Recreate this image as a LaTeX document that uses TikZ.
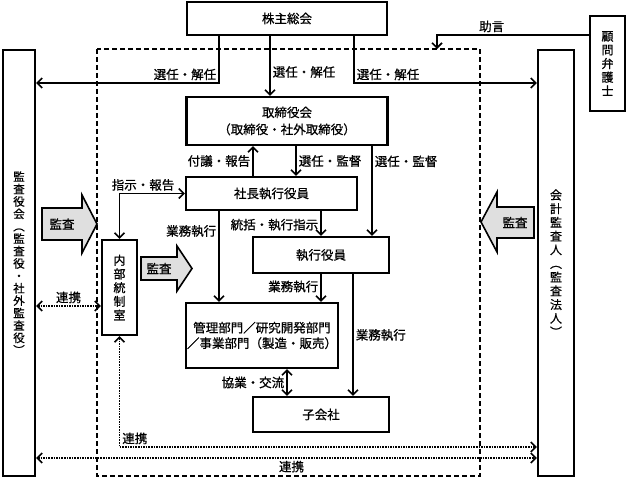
\documentclass[tikz,border=0pt]{standalone}
\usepackage{fontspec}
\setmainfont{Noto Sans CJK JP}[FakeBold=0.8]
\usetikzlibrary{arrows.meta,positioning}
\tikzset{
	box/.style={draw,line width=2.2pt,align=center,inner sep=0pt},
	arr/.style={line width=1.6pt,->},
	link/.style={line width=1.6pt,densely dotted,<->},
	lbl/.style={inner sep=2pt},
	audit/.style={draw,line width=1.6pt,fill=gray!25}
}

\begin{document}
\begin{tikzpicture}[x=1pt,y=-1pt,>={Straight Barb[length=5pt,width=10pt]},
	every node/.style={font=\fontsize{12.5}{14}\selectfont}]
	\useasboundingbox (0,0) rectangle (626,478);
	
	% dashed frame
	\draw[line width=1.3pt,dash pattern=on 5pt off 3pt] (97,49) rectangle (480,476);
	\coordinate (ftop) at (437,49);
	
	% boxes
	\node[box,minimum width=200pt,minimum height=33pt] (agm) at (287,18.5) {株主総会};
	\node[box,minimum width=201pt,minimum height=48pt,font=\fontsize{12.5}{17}\selectfont] (board) at (287,121) {取締役会\\（取締役・社外取締役）};
	\node[box,minimum width=171pt,minimum height=33pt] (ceo) at (271.5,193.5) {社長執行役員};
	\node[box,minimum width=136pt,minimum height=36pt] (exec) at (321,255) {執行役員};
	\node[box,minimum width=152pt,minimum height=65pt,font=\fontsize{12.5}{15.5}\selectfont] (dept) at (262,335.5) {管理部門／研究開発部門\\／事業部門（製造・販売）};
	\node[box,minimum width=136pt,minimum height=35pt] (sub) at (321,414.5) {子会社};
	\node[box,minimum width=35pt,minimum height=95pt,font=\fontsize{12}{13.7}\selectfont] (naibu) at (119.5,287.5) {内\\部\\統\\制\\室};
	\node[box,minimum width=32pt,minimum height=426pt,font=\fontsize{11.5}{12.4}\selectfont] (kansa) at (19,263) {監\\査\\役\\会\\︵\\監\\査\\役\\・\\社\\外\\監\\査\\役\\︶};
	\node[box,minimum width=36pt,minimum height=426pt,font=\fontsize{12}{13.7}\selectfont] (kaikei) at (556,263) {会\\計\\監\\査\\人\\︵\\監\\査\\法\\人\\︶};
	\node[box,minimum width=35pt,minimum height=95pt,font=\fontsize{12}{13.7}\selectfont] (komon) at (607.5,63.5) {顧\\問\\弁\\護\\士};
	
	% audit arrows
	\draw[audit] (42,208) -- (82,208) -- (82,195) -- (97,224) -- (82,253) -- (82,240) -- (42,240) -- cycle;
	\node (audit1) at (62,224) {監査};
	\draw[audit] (141,257) -- (177,257) -- (177,246) -- (192,268.5) -- (177,291) -- (177,280) -- (141,280) -- cycle;
	\node (audit2) at (159,268.5) {監査};
	\draw[audit] (534,207) -- (497,207) -- (497,192) -- (481,222) -- (497,252) -- (497,238) -- (534,238) -- cycle;
	\node (audit3) at (515,222.5) {監査};
	
	% connectors
	\draw[arr] (agm.south -| 219,0) |- node[lbl,pos=0.5,above left]{選任・解任} (kansa.east |- 0,83);
	\draw[arr] (agm.south -| 270,0) -- node[lbl,pos=0.6,right]{選任・解任} (board.north -| 270,0);
	\draw[arr] (agm.south -| 354,0) |- node[lbl,pos=0.5,above right]{選任・解任} (kaikei.west |- 0,83);
	\draw[arr] (komon.west |- 0,35) -| node[lbl,pos=0.32,above]{助言} (ftop);
	\draw[arr] (ceo.north -| 253,0) -- node[lbl,left]{付議・報告} (board.south -| 253,0);
	\draw[arr] (board.south -| 296,0) -- node[lbl,right]{選任・監督} (ceo.north -| 296,0);
	\draw[arr] (board.south -| 372,0) -- node[lbl,pos=0.17,right]{選任・監督} (exec.north -| 372,0);
	\draw[line width=1.6pt,<->] (naibu.north) |- node[lbl,pos=0.68,above]{指示・報告} (ceo.west);
	\draw[arr] (ceo.south -| 219,0) -- node[lbl,pos=0.22,left]{業務執行} (dept.north -| 219,0);
	\draw[arr] (ceo.south -| 321,0) -- node[lbl,pos=0.55,left]{統括・執行指示} (exec.north -| 321,0);
	\draw[arr] (exec.south -| 321,0) -- node[lbl,pos=0.45,left]{業務執行} (dept.north -| 321,0);
	\draw[arr] (exec.south -| 353,0) -- node[lbl,pos=0.5,right]{業務執行} (sub.north -| 353,0);
	\draw[line width=1.6pt,<->] (dept.south -| 287,0) -- node[lbl,left]{協業・交流} (sub.north -| 287,0);
	
	% dotted links
	\draw[link] (kansa.east |- 0,306) -- node[lbl,above]{連携} (naibu.west |- 0,306);
	\draw[link] (naibu.south) |- node[lbl,pos=0.5,above right]{連携} (kaikei.west |- 0,447);
	\draw[link] (kansa.east |- 0,458) -- node[lbl,pos=0.51,below]{連携} (kaikei.west |- 0,458);
\end{tikzpicture}
\end{document}
